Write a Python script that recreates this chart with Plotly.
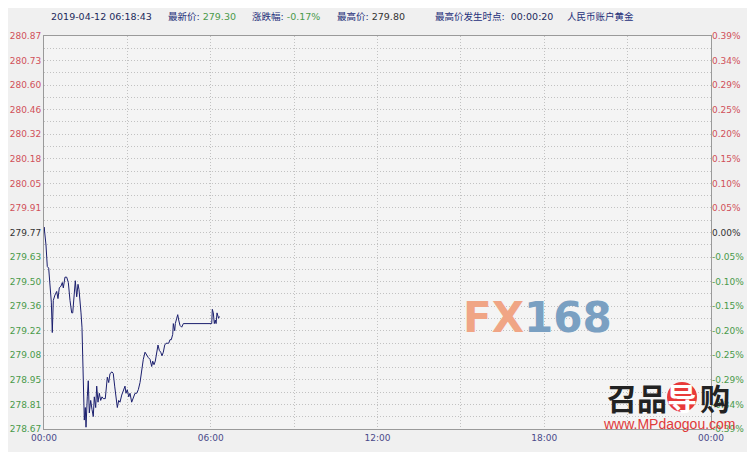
import plotly.graph_objects as go

# ---- data ----
minutes = [0, 0.33, 4.3, 7.1, 10.1, 13.0, 15.8, 17.9, 20.1, 23.7, 27.4, 30.2, 33.0, 36.7, 39.5,
           41.7, 45.3, 49.0, 52.5, 56.1, 59.8, 62.0, 64.8, 67.6, 70.6, 73.4, 75.6, 77.7, 79.9,
           82.0, 83.6, 84.9, 87.0, 89.2, 90.7, 93.5, 95.6, 97.8, 100.8, 103.6, 106.4, 108.6,
           111.6, 113.8, 116.6, 119.4, 122.4, 125.2, 128.0, 132.3, 136.7, 139.7, 142.5, 146.8,
           149.6, 152.6, 155.4, 158.3, 161.3, 164.1, 167.8, 171.2, 174.9, 177.0, 179.8, 182.9,
           185.7, 189.3, 192.8, 196.5, 200.1, 203.6, 207.3, 210.9, 214.4, 218.1, 221.7, 225.2,
           228.9, 232.5, 234.7, 237.5, 240.3, 243.3, 246.1, 249.0, 252.0, 254.8, 257.6, 260.6,
           263.4, 266.2, 269.2, 272.0, 274.8, 277.9, 279.2, 282.2, 283.5, 286.5, 288.7, 290.8,
           293.6, 297.3, 300.8, 362.1, 363.4, 365.5, 367.7, 369.8, 371.5, 373.5, 375.5, 377.0,
           378.7]
prices = [279.78, 279.80, 279.70, 279.58, 279.57, 279.47, 279.38, 279.21, 279.39, 279.42, 279.44,
          279.40, 279.46, 279.47, 279.49, 279.46, 279.52, 279.52, 279.49, 279.39, 279.32, 279.32,
          279.43, 279.50, 279.41, 279.48, 279.45, 279.35, 279.32, 279.24, 279.06, 278.87, 278.72,
          278.79, 278.68, 278.85, 278.94, 278.76, 278.83, 278.78, 278.74, 278.85, 278.79, 278.91,
          278.82, 278.87, 278.83, 278.85, 278.84, 278.84, 278.96, 278.93, 278.98, 278.99, 278.98,
          278.91, 278.83, 278.79, 278.83, 278.82, 278.86, 278.89, 278.91, 278.87, 278.89, 278.85,
          278.87, 278.82, 278.84, 278.87, 278.87, 278.89, 278.93, 279.00, 279.06, 279.10, 279.08,
          279.07, 279.06, 279.02, 279.05, 279.03, 279.05, 279.10, 279.14, 279.11, 279.10, 279.08,
          279.10, 279.14, 279.15, 279.15, 279.15, 279.17, 279.17, 279.20, 279.26, 279.22, 279.26,
          279.29, 279.31, 279.28, 279.25, 279.24, 279.26, 279.26, 279.34, 279.32, 279.26, 279.28,
          279.26, 279.32, 279.29, 279.29, 279.30]

prev_close = 279.77
price_ticks = [278.67, 278.8075, 278.945, 279.0825, 279.22, 279.3575, 279.495, 279.6325, 279.77,
               279.9075, 280.045, 280.1825, 280.32, 280.4575, 280.595, 280.7325, 280.87]
price_labels = ["278.67", "278.81", "278.95", "279.08", "279.22", "279.36", "279.50", "279.63",
                "279.77", "279.91", "280.05", "280.18", "280.32", "280.46", "280.60", "280.73",
                "280.87"]
pct_labels = ["-0.39%", "-0.34%", "-0.29%", "-0.25%", "-0.20%", "-0.15%", "-0.10%", "-0.05%",
              "0.00%", "0.05%", "0.10%", "0.15%", "0.20%", "0.25%", "0.29%", "0.34%", "0.39%"]
time_ticks = [0, 360, 720, 1080, 1440]
time_labels = ["00:00", "06:00", "12:00", "18:00", "00:00"]
time_minor = [180, 540, 900, 1260]

header_date = "2019-04-12 06:18:43"
last_price = "279.30"
change_pct = "-0.17%"
high_price = "279.80"
high_time = "00:00:20"
product = "人民币账户黄金"

RED = "#d0505a"
GREEN = "#4a9a4a"
BLACK = "#333333"
NAVY = "#1e2f7a"


def colored(labels, vals):
    out = []
    for lab, v in zip(labels, vals):
        c = RED if v > prev_close + 1e-9 else (GREEN if v < prev_close - 1e-9 else BLACK)
        out.append(f"<span style='color:{c}'>{lab}</span>")
    return out


minor_y = [(a + b) / 2 for a, b in zip(price_ticks[:-1], price_ticks[1:])]

fig = go.Figure()
fig.add_trace(go.Scatter(x=minutes, y=prices, mode="lines",
                         line=dict(color="#1b1f6e", width=1), showlegend=False,
                         hoverinfo="skip"))
fig.add_trace(go.Scatter(x=[minutes[0]], y=[prices[0]], yaxis="y2", mode="markers",
                         marker=dict(opacity=0), showlegend=False, hoverinfo="skip"))

grid = "#c2c2c2"
gdash = "1px,2px"
fig.update_layout(
    width=747, height=444,
    margin=dict(l=36, r=44, t=28, b=23, autoexpand=False),
    paper_bgcolor="#f0f0f0", plot_bgcolor="#f4f4f4",
    font=dict(family="DejaVu Sans", size=9, color=BLACK),
    xaxis=dict(range=[0, 1440], tickvals=time_ticks, ticktext=time_labels,
               automargin=False,
               showgrid=True, gridcolor=grid, griddash=gdash, gridwidth=1,
               minor=dict(tickvals=time_minor, showgrid=True, gridcolor=grid,
                          griddash=gdash, gridwidth=1),
               showline=True, linecolor="#9a9a9a", linewidth=1, mirror=True,
               zeroline=False, ticks="", tickfont=dict(color="#4a4a8a", size=9)),
    yaxis=dict(range=[price_ticks[0], price_ticks[-1]], tickvals=price_ticks,
               ticktext=colored(price_labels, price_ticks), automargin=False,
               showgrid=True, gridcolor=grid, griddash=gdash, gridwidth=1,
               minor=dict(tickvals=minor_y, showgrid=True, gridcolor=grid,
                          griddash=gdash, gridwidth=1),
               showline=True, linecolor="#9a9a9a", linewidth=1, mirror=True,
               zeroline=False, ticks=""),
    yaxis2=dict(range=[price_ticks[0], price_ticks[-1]], tickvals=price_ticks,
                ticktext=colored(pct_labels, price_ticks), overlaying="y", side="right",
                automargin=False,
                showgrid=False, zeroline=False, ticks="", showline=False),
)


def px_x(px):
    return (px - 44) / 667.0


def px_y(py):
    return (429 - py) / 393.0


hdr_font = dict(family="DejaVu Sans, Noto Sans CJK SC", size=9.5, color=NAVY)
header = [
    (49, f"<span style='color:#1c2a5c'>{header_date}</span>"),
    (166, f"最新价: <span style='color:{GREEN}'>{last_price}</span>"),
    (250, f"涨跌幅: <span style='color:{GREEN}'>{change_pct}</span>"),
    (335, f"最高价: <span style='color:{BLACK}'>{high_price}</span>"),
    (433, f"最高价发生时点:  <span style='color:#1c2a5c'>{high_time}</span>"),
    (565, product),
]
for px, txt in header:
    fig.add_annotation(xref="paper", yref="paper", x=px_x(px), y=px_y(17), text=txt,
                       showarrow=False, xanchor="left", yanchor="middle", font=hdr_font)

# FX168 watermark
fig.add_annotation(xref="paper", yref="paper", x=px_x(537), y=px_y(317),
                   text="<b><span style='color:#f0a585'>FX</span>"
                        "<span style='color:#7aa0c2'>168</span></b>",
                   showarrow=False, xanchor="center", yanchor="middle",
                   font=dict(family="DejaVu Sans", size=42))

# 召品导购 watermark
fig.add_shape(type="circle", xref="paper", yref="paper",
              x0=px_x(667), x1=px_x(697), y0=px_y(412), y1=px_y(382),
              fillcolor="#e83a3a", line=dict(width=0))
for cx, ch, col in [(622, "召", "#222222"), (652, "品", "#222222"),
                    (682, "导", "#ffffff"), (715, "购", "#222222")]:
    fig.add_annotation(xref="paper", yref="paper", x=px_x(cx), y=px_y(397),
                       text=f"<b>{ch}</b>", showarrow=False, xanchor="center",
                       yanchor="middle",
                       font=dict(family="Noto Sans CJK SC", size=30, color=col))
fig.add_annotation(xref="paper", yref="paper", x=px_x(669), y=px_y(424),
                   text="www.MPdaogou.com", showarrow=False, xanchor="center",
                   yanchor="middle",
                   font=dict(family="Liberation Sans", size=14, color="#e03a3a"))

fig.write_html("out.html")
